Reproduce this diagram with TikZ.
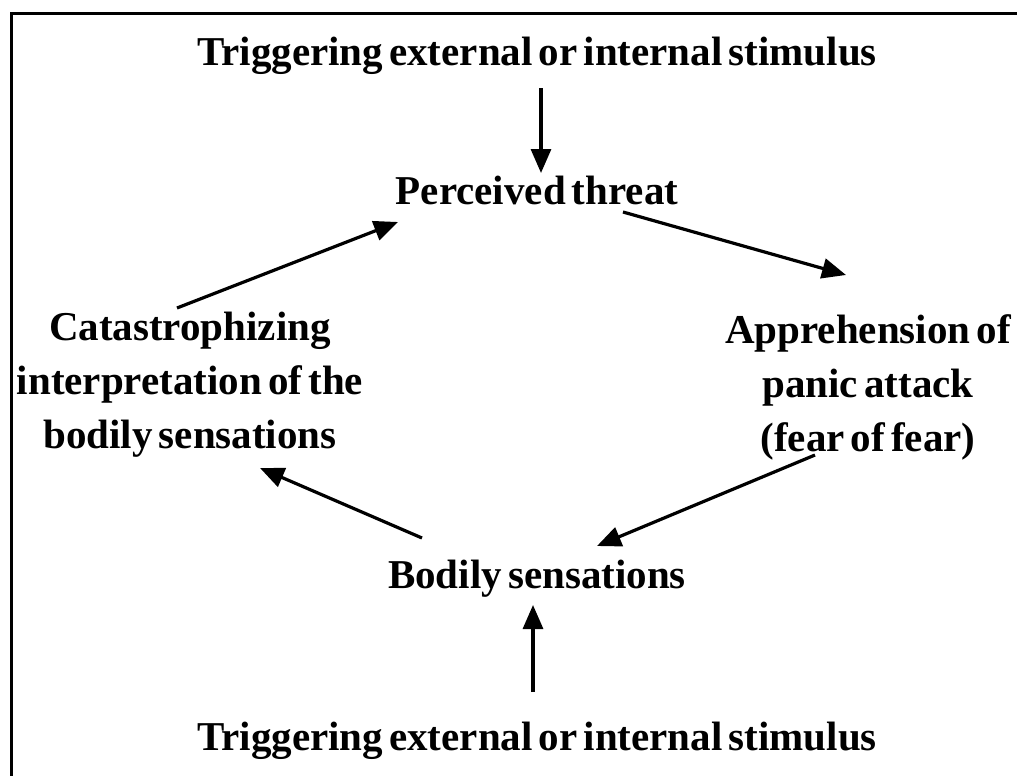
\documentclass[tikz,border=0pt]{standalone}
\usepackage{fontspec}
\setmainfont{Liberation Serif}[WordSpace=0.6]
\usetikzlibrary{arrows.meta}

\begin{document}
\begin{tikzpicture}[x=1pt, y=-1pt,
    every node/.style={inner sep=0pt, align=center, font=\fontsize{41}{54}\selectfont\bfseries},
    arr/.style={line width=3.2pt, -{Triangle[length=24pt, width=20pt]}}]
    \useasboundingbox (0,0) rectangle (1017,776);
    \draw[line width=3pt] (11,776) -- (11,14) -- (1017,14);

    % the loop
    \node (trigtop) at (537,56) {Triggering external or internal stimulus};
    \node (threat) at (537,190) {Perceived threat};
    \node (catas) at (190,385) {Catastrophizing\\interpretation of the\\bodily sensations};
    \node (appre) at (868,387) {Apprehension of\\panic attack\\(fear of fear)};
    \node (bodily) at (537,579) {Bodily sensations};
    \node (trigbot) at (537,741) {Triggering external or internal stimulus};

    \draw[arr] ([xshift=4pt]trigtop.south |- 0,88) -- ([xshift=4pt]threat.north |- 0,173);
    \draw[arr] ([xshift=-13pt]catas.north |- 0,308) -- ([xshift=-139pt]threat.south |- 0,222);
    \draw[arr] ([xshift=86pt]threat.south |- 0,212) -- ([xshift=-22pt]appre.north |- 0,275);
    \draw[arr] ([xshift=-53pt]appre.south |- 0,455) -- ([xshift=60pt]bodily.north |- 0,546);
    \draw[arr] ([xshift=-115pt]bodily.north |- 0,538) -- ([xshift=70pt]catas.south |- 0,468);
    \draw[arr] ([xshift=-4pt]trigbot.north |- 0,692) -- ([xshift=-4pt]bodily.south |- 0,605);
\end{tikzpicture}
\end{document}
